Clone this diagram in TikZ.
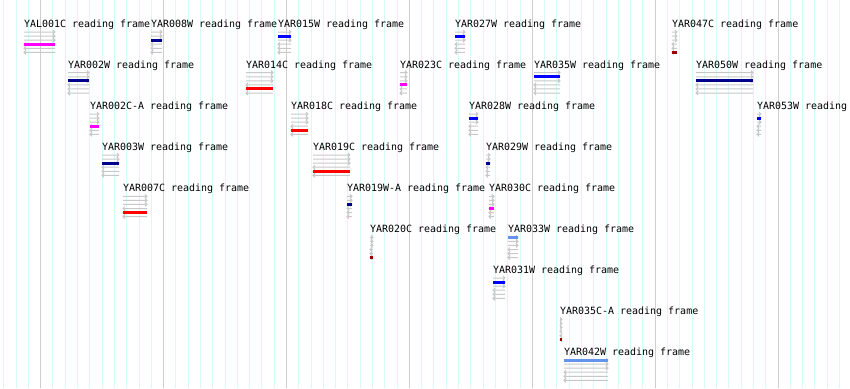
\documentclass[tikz,border=0pt]{standalone}
\usepackage{fontspec}
\usepackage{xcolor}
\usepackage{tikz}
\usetikzlibrary{calc, positioning}

\newfontfamily\orfmono{DejaVu Sans Mono}

\definecolor{frameA}{HTML}{6495ED}
\definecolor{frameB}{HTML}{0000FF}
\definecolor{frameC}{HTML}{00008B}
\definecolor{frameD}{HTML}{FF00FF}
\definecolor{frameE}{HTML}{FF0000}
\definecolor{frameF}{HTML}{990000}
\definecolor{gridminor}{HTML}{D6FAFA}
\definecolor{gridmajor}{HTML}{CFCFCF}
\definecolor{frameline}{HTML}{C8C8C8}

% name, left x, right x, row y, frame, colour
\newcommand{\orf}[6]{%
  \node[orflabel] (#1) at (#2,#4+3.65) {#1 reading frame};
  \foreach \i in {0,1,2}
    \draw[orfline] (#2,#4+8+4.07*\i) -- (#3,#4+8+4.07*\i)
      ++(-2,-2) -- ++(2,2) -- ++(-2,2);
  \foreach \i in {3,4,5}
    \draw[orfline] (#3,#4+8+4.07*\i) -- (#2,#4+8+4.07*\i)
      ++(2,-2) -- ++(-2,2) -- ++(2,2);
  \fill[#6] (#2,#4+6.5+4.07*#5) rectangle (#3,#4+9.5+4.07*#5);
}

\begin{document}
\begin{tikzpicture}[x=1pt, y=-1pt,
    orflabel/.style={anchor=base west, inner sep=0pt,
      font=\orfmono\fontsize{9.97}{12}\selectfont},
    orfline/.style={frameline, line width=1pt}]
    % 1. Nền và lưới dọc
    \useasboundingbox (0,0) rectangle (850,388);
    \fill[white] (0,0) rectangle (850,388);
    \foreach \n in {-3,...,65}
        \draw[gridminor, line width=1pt] ({40.7+12.29*\n},0) -- ({40.7+12.29*\n},388);
    \foreach \m in {0,...,6}
        \draw[gridmajor, line width=1.2pt] ({40.7+122.9*\m},0) -- ({40.7+122.9*\m},388);

    \begin{scope}
    \clip (0,0) rectangle (850,388);
    % 2. Hàng 1
    \orf{YAL001C}{24}{55}{24}{3}{frameD}
    \orf{YAR008W}{151}{162}{24}{2}{frameC}
    \orf{YAR015W}{278}{291}{24}{1}{frameB}
    \orf{YAR027W}{455}{465}{24}{1}{frameB}
    \orf{YAR047C}{672}{677}{24}{5}{frameF}

    % 3. Hàng 2
    \orf{YAR002W}{68}{89}{64.7}{2}{frameC}
    \orf{YAR014C}{246}{273}{64.7}{4}{frameE}
    \orf{YAR023C}{400}{407}{64.7}{3}{frameD}
    \orf{YAR035W}{534}{560}{64.7}{1}{frameB}
    \orf{YAR050W}{696}{753}{64.7}{2}{frameC}

    % 4. Hàng 3
    \orf{YAR002C-A}{90}{99}{106}{3}{frameD}
    \orf{YAR018C}{291}{308}{106}{4}{frameE}
    \orf{YAR028W}{469}{478}{106}{1}{frameB}
    \orf{YAR053W}{757}{761}{106}{1}{frameB}

    % 5. Hàng 4 và 5
    \orf{YAR003W}{102}{119}{147}{2}{frameC}
    \orf{YAR019C}{313}{350}{147}{4}{frameE}
    \orf{YAR029W}{486}{490}{147}{2}{frameC}
    \orf{YAR007C}{123}{147}{188.3}{4}{frameE}
    \orf{YAR019W-A}{347}{352}{188.3}{2}{frameC}
    \orf{YAR030C}{489}{494}{188.3}{3}{frameD}

    % 6. Các hàng dưới
    \orf{YAR020C}{370}{373}{229.3}{5}{frameF}
    \orf{YAR033W}{508}{518}{229.3}{0}{frameA}
    \orf{YAR031W}{493}{505}{270}{1}{frameB}
    \orf{YAR035C-A}{560}{562}{311.3}{5}{frameF}
    \orf{YAR042W}{564}{608}{352}{0}{frameA}
    \end{scope}
\end{tikzpicture}
\end{document}
